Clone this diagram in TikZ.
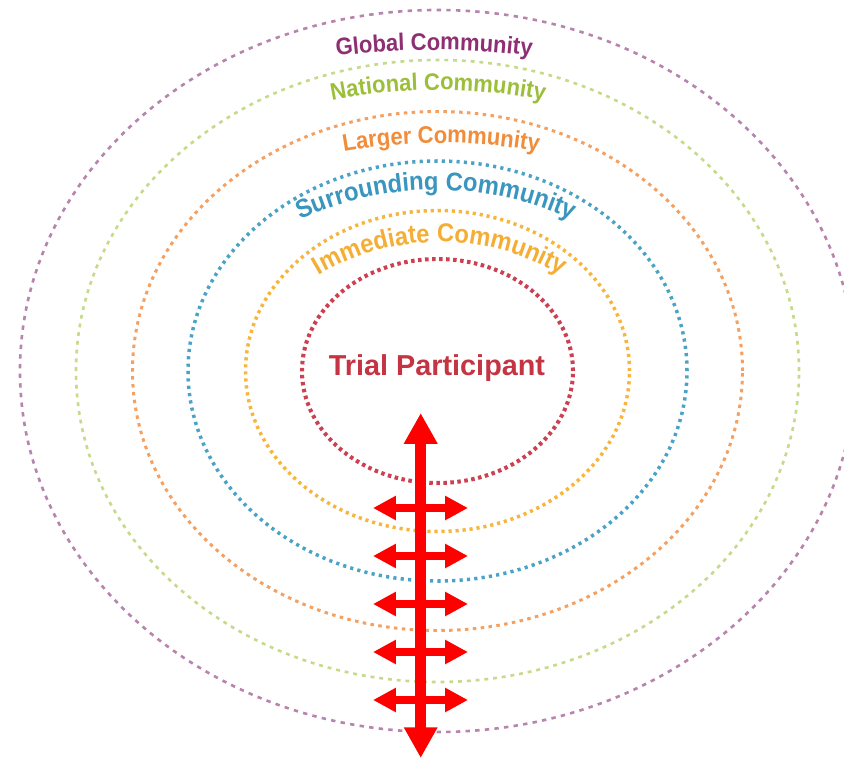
\documentclass[tikz,border=0pt]{standalone}
\usepackage{fontspec}
\setmainfont{Liberation Sans}
\newfontfamily\lblfont[FakeStretch=0.92]{Liberation Sans}
\usetikzlibrary{arrows.meta,decorations.text}

\definecolor{globtxt}{HTML}{8E2F74}
\definecolor{globdot}{HTML}{B784AE}
\definecolor{nattxt}{HTML}{9CBF3B}
\definecolor{natdot}{HTML}{C6DA8C}
\definecolor{lartxt}{HTML}{F08C3A}
\definecolor{lardot}{HTML}{F4A061}
\definecolor{surtxt}{HTML}{3A96BE}
\definecolor{surdot}{HTML}{4AA3C6}
\definecolor{immtxt}{HTML}{F5AE35}
\definecolor{immdot}{HTML}{F7B53C}
\definecolor{partxt}{HTML}{C43442}
\definecolor{pardot}{HTML}{CC4052}

\begin{document}
\begin{tikzpicture}[x=0.02cm,y=0.02cm,
  ring/.style={line width=#1},
  bigarrow/.style={red,line width=6.2pt,{Triangle[length=17.5pt,width=18pt]}-{Triangle[length=17.5pt,width=18pt]}},
  smallarrow/.style={red,line width=4.5pt,{Triangle[length=13pt,width=13pt]}-{Triangle[length=13pt,width=13pt]}}]
\useasboundingbox (0,0) rectangle (844,762);
\coordinate (c) at (437.5,391);

% rings, outside in
\draw[ring=1.5pt,globdot,dash pattern=on 2.5pt off 3pt] (c) ellipse [x radius=417.5,y radius=361];
\draw[ring=1.5pt,natdot,dash pattern=on 2.2pt off 2.8pt] (c) ellipse [x radius=361.5,y radius=311];
\draw[ring=1.7pt,lardot,dash pattern=on 2pt off 2.5pt] (c) ellipse [x radius=305,y radius=259.5];
\draw[ring=2pt,surdot,dash pattern=on 1.8pt off 2.4pt] (c) ellipse [x radius=249.5,y radius=210];
\draw[ring=2pt,immdot,dash pattern=on 1.8pt off 2.2pt] (c) ellipse [x radius=192,y radius=160.5];
\draw[ring=2.3pt,pardot,dash pattern=on 2pt off 2pt] (c) ellipse [x radius=135.5,y radius=112];

% labels
\path[decorate,decoration={text along path,text align=center,
  text={|\lblfont\bfseries\fontsize{13.6}{16}\selectfont\color{globtxt}|Global Community}}]
  (434,-88) ++(120:800) arc[start angle=120,end angle=60,radius=800];
\path[decorate,decoration={text along path,text align=center,
  text={|\lblfont\bfseries\fontsize{13.6}{16}\selectfont\color{nattxt}|National Community}}]
  (438,122) ++(130:550) arc[start angle=130,end angle=50,radius=550];
\path[decorate,decoration={text along path,text align=center,
  text={|\lblfont\bfseries\fontsize{13.6}{16}\selectfont\color{lartxt}|Larger Community}}]
  (441,64) ++(130:555) arc[start angle=130,end angle=50,radius=555];
\path[decorate,decoration={text along path,text align=center,
  text={|\lblfont\bfseries\fontsize{14.7}{17}\selectfont\color{surtxt}|Surrounding Community}}]
  (436,245) ++(140:327) arc[start angle=140,end angle=40,radius=327];
\path[decorate,decoration={text along path,text align=center,
  text={|\lblfont\bfseries\fontsize{14.7}{17}\selectfont\color{immtxt}|Immediate Community}}]
  (440,283) ++(145:237) arc[start angle=145,end angle=35,radius=237];
\node[anchor=base,partxt,font=\bfseries\fontsize{16.4}{19}\selectfont] (trial) at (437,387) {Trial Participant};

% arrows
\coordinate (top) at (420.7,349);
\coordinate (bot) at (420.7,4);
\draw[bigarrow] (top) -- (bot);
\foreach \i/\y in {1/254,2/206,3/158,4/110,5/62}{
  \coordinate (l\i) at (373,\y);
  \coordinate (r\i) at (468,\y);
  \draw[smallarrow] (l\i) -- (r\i);
}
\end{tikzpicture}
\end{document}
